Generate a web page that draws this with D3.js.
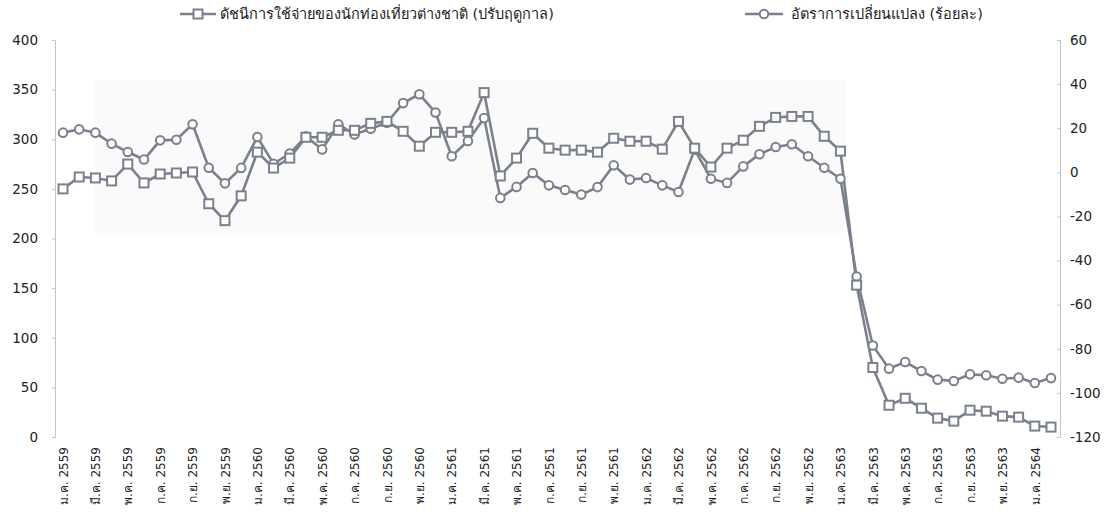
<!DOCTYPE html>
<html><head><meta charset="utf-8">
<script src="https://cdn.jsdelivr.net/npm/d3@7"></script>
<style>
body{margin:0;background:#fff;}
text{font-family:"DejaVu Sans","Noto Sans",sans-serif;}
</style></head>
<body><svg id="c" width="1116" height="527"></svg>
<script>
const monthNames = ["ม.ค.","ก.พ.","มี.ค.","เม.ย.","พ.ค.","มิ.ย.","ก.ค.","ส.ค.","ก.ย.","ต.ค.","พ.ย.","ธ.ค."];
const years = [2559,2560,2561,2562,2563,2564];
const categories = [];
years.forEach(y => monthNames.forEach(m => categories.push(m + " " + y)));
categories.splice(62); // ม.ค. 2559 – ก.พ. 2564

const indexValues = [250,262,261,258,275,256,265,266,267,235,218,243,
  287,271,281,302,302,309,309,316,318,308,293,307,
  307,308,347,263,281,306,291,289,289,287,301,298,
  298,290,318,291,272,291,299,313,322,323,323,303,
  288,153,70,32,39,29,19,16,27,26,21,20,
  11,10];
const changeValues = [18.0,19.5,18.0,13.0,9.2,5.8,14.5,14.8,21.8,2.1,-5.0,2.0,
  16.0,3.9,8.5,16.3,10.4,21.8,17.2,19.8,22.5,31.4,35.4,27.1,
  7.3,14.2,24.6,-11.6,-6.6,-0.3,-5.9,-8.0,-10.1,-6.7,3.2,-3.3,
  -2.6,-5.9,-8.9,10.3,-2.9,-4.8,2.7,8.2,11.5,12.7,7.3,2.1,
  -2.9,-47.2,-78.5,-89,-86,-90.1,-94,-94.6,-91.6,-92,-93.6,-93.1,
  -95.5,-93.3];
const leftTicks = [0,50,100,150,200,250,300,350,400];
const rightTicks = [-120,-100,-80,-60,-40,-20,0,20,40,60];
const xTickLabels = categories.filter((d,i) => i % 2 === 0);
const legendIndex = "ดัชนีการใช้จ่ายของนักท่องเที่ยวต่างชาติ (ปรับฤดูกาล)";
const legendChange = "อัตราการเปลี่ยนแปลง (ร้อยละ)";

const svg = d3.select("#c");
const col = "#7b808d";
const x = d3.scalePoint().domain(categories).range([63, 1051]);
const yL = d3.scaleLinear().domain([0, 400]).range([437, 40]);
const yR = d3.scaleLinear().domain([-120, 60]).range([437, 40]);

// faint background patch
svg.append("rect").attr("x", 95).attr("y", 80).attr("width", 750).attr("height", 153).attr("fill", "#fafafa");

// left axis
const gL = svg.append("g").attr("transform", "translate(55,0)")
  .call(d3.axisLeft(yL).tickValues(leftTicks).tickFormat(d => String(d)).tickSize(3).tickPadding(14));
gL.select(".domain").attr("stroke", "#c4c4c4");
gL.selectAll(".tick line").attr("stroke", "#c4c4c4");
gL.selectAll("text").attr("font-size", 13.5).attr("fill", "#222");

// right axis
const gR = svg.append("g").attr("transform", "translate(1060,0)")
  .call(d3.axisRight(yR).tickValues(rightTicks).tickFormat(d => String(d)).tickSize(-3).tickPadding(10));
gR.select(".domain").attr("stroke", "#c4c4c4");
gR.selectAll(".tick line").attr("stroke", "#c4c4c4");
gR.selectAll("text").attr("font-size", 13.5).attr("fill", "#222");

// x axis labels
const gX = svg.append("g").attr("transform", "translate(0,437)")
  .call(d3.axisBottom(x).tickValues(xTickLabels).tickSize(0));
gX.select(".domain").remove();
gX.selectAll("text")
  .attr("font-size", 12).attr("fill", "#222")
  .attr("text-anchor", "end")
  .attr("transform", "translate(0,10) rotate(-90)")
  .attr("x", 0).attr("y", 0).attr("dy", "0.35em");

// lines
const lineL = d3.line().x((d,i) => x(categories[i])).y(d => yL(d));
const lineR = d3.line().x((d,i) => x(categories[i])).y(d => yR(d));
svg.append("path").datum(changeValues).attr("d", lineR).attr("fill", "none").attr("stroke", col).attr("stroke-width", 2.6);
svg.append("path").datum(indexValues).attr("d", lineL).attr("fill", "none").attr("stroke", col).attr("stroke-width", 2.6);

svg.append("g").selectAll("circle").data(changeValues).join("circle")
  .attr("cx", (d,i) => x(categories[i])).attr("cy", d => yR(d)).attr("r", 4.3)
  .attr("fill", "#fff").attr("stroke", col).attr("stroke-width", 2);
svg.append("g").selectAll("rect").data(indexValues).join("rect")
  .attr("x", (d,i) => x(categories[i]) - 4.5).attr("y", d => yL(d) - 4.5)
  .attr("width", 9).attr("height", 9)
  .attr("fill", "#fff").attr("stroke", col).attr("stroke-width", 2);

// legend
const lg1 = svg.append("g").attr("transform", "translate(180,14)");
lg1.append("line").attr("x1", 0).attr("x2", 36).attr("stroke", col).attr("stroke-width", 2.6);
lg1.append("rect").attr("x", 13.5).attr("y", -4.5).attr("width", 9).attr("height", 9).attr("fill", "#fff").attr("stroke", col).attr("stroke-width", 2);
lg1.append("text").attr("x", 40).attr("dy", "0.35em").attr("font-size", 14.5).attr("fill", "#222").text(legendIndex);

const lg2 = svg.append("g").attr("transform", "translate(745,14)");
lg2.append("line").attr("x1", 0).attr("x2", 38).attr("stroke", col).attr("stroke-width", 2.6);
lg2.append("circle").attr("cx", 19).attr("r", 4.3).attr("fill", "#fff").attr("stroke", col).attr("stroke-width", 2);
lg2.append("text").attr("x", 46).attr("dy", "0.35em").attr("font-size", 14.5).attr("fill", "#222").text(legendChange);
</script></body></html>
